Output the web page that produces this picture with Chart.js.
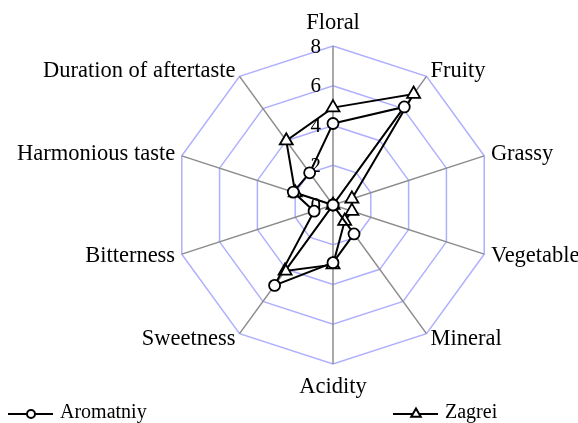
<!DOCTYPE html>
<html>
<head>
<meta charset="utf-8">
<script src="https://cdn.jsdelivr.net/npm/chart.js@4.4.1/dist/chart.umd.min.js"></script>
<style>
  html, body { margin: 0; padding: 0; background: #fff; }
  #wrap { width: 578px; height: 423px; }
</style>
</head>
<body>
<div id="wrap"><canvas id="radar" width="578" height="423"></canvas></div>
<script>
// data
var categories = ['Floral', 'Fruity', 'Grassy', 'Vegetable', 'Mineral', 'Acidity', 'Sweetness', 'Bitterness', 'Harmonious taste', 'Duration of aftertaste'];
var aromatniy = [4.1, 6.1, 0, 0, 1.8, 2.9, 5.0, 1.0, 2.1, 2.0];
var zagrei = [4.9, 6.9, 1.0, 1.0, 1.0, 3.0, 4.1, 0, 2.0, 4.0];
var tickValues = [0, 2, 4, 6, 8];
var seriesNames = ['Aromatniy', 'Zagrei'];

var serif = '"Liberation Serif", "Times New Roman", serif';

/**
 * tick numbers on the left of the vertical axis
 */
var tickText = {
	id: 'tickText',
	beforeDatasetsDraw: function(chart) {
		var s = chart.scales.r;
		var ctx = chart.ctx;
		ctx.save();
		ctx.font = '21px ' + serif;
		ctx.fillStyle = '#000';
		ctx.textAlign = 'right';
		ctx.textBaseline = 'middle';
		for (var i = 0; i < tickValues.length; i++) {
			var d = s.getDistanceFromCenterForValue(tickValues[i]);
			ctx.fillText(String(tickValues[i]), s.xCenter - 12, s.yCenter - d + 1);
		}
		ctx.restore();
	}
};

/**
 * category names, placed next to the outer ring
 */
var catText = {
	id: 'catText',
	afterDraw: function(chart) {
		var s = chart.scales.r;
		var ctx = chart.ctx;
		ctx.save();
		ctx.font = '22.5px ' + serif;
		ctx.fillStyle = '#000';
		for (var i = 0; i < categories.length; i++) {
			var deg = Math.round(s.getIndexAngle(i) * 180 / Math.PI) % 360;
			var pad = (deg === 0 || deg === 180) ? 12 : 7;
			var p = s.getPointPosition(i, s.drawingArea + pad);
			if (deg === 0) {
				ctx.textAlign = 'center'; ctx.textBaseline = 'bottom';
			} else if (deg === 180) {
				ctx.textAlign = 'center'; ctx.textBaseline = 'top';
			} else if (deg < 180) {
				ctx.textAlign = 'left'; ctx.textBaseline = 'middle';
			} else {
				ctx.textAlign = 'right'; ctx.textBaseline = 'middle';
			}
			ctx.fillText(categories[i], p.x, p.y);
		}
		ctx.restore();
	}
};

function marker(ctx, style, x, y, r) {
	ctx.beginPath();
	if (style === 'triangle') {
		ctx.moveTo(x, y - r);
		ctx.lineTo(x + r * 0.866, y + r * 0.5);
		ctx.lineTo(x - r * 0.866, y + r * 0.5);
		ctx.closePath();
	} else {
		ctx.arc(x, y, r, 0, Math.PI * 2);
	}
	ctx.fillStyle = '#fff';
	ctx.fill();
	ctx.stroke();
}

/**
 * legend: one entry bottom-left, one bottom-right
 */
var bottomLegend = {
	id: 'bottomLegend',
	afterDraw: function(chart, args, opts) {
		var ctx = chart.ctx;
		ctx.save();
		ctx.font = '20px ' + serif;
		ctx.textAlign = 'left';
		ctx.textBaseline = 'middle';
		chart.data.datasets.forEach(function(ds, i) {
			var x = opts.xs[i], y = opts.y;
			ctx.strokeStyle = ds.borderColor;
			ctx.lineWidth = 2;
			ctx.beginPath();
			ctx.moveTo(x, y);
			ctx.lineTo(x + 45, y);
			ctx.stroke();
			marker(ctx, ds.pointStyle, x + 23, y, ds.pointStyle === 'triangle' ? 5.5 : 4);
			ctx.fillStyle = '#000';
			ctx.fillText(ds.label, x + 52, y - 1);
		});
		ctx.restore();
	}
};

var ctx = document.getElementById('radar').getContext('2d');
var myChart = new Chart(ctx, {
	type: 'radar',
	data: {
		labels: categories,
		datasets: [{
			label: seriesNames[0],
			data: aromatniy,
			borderColor: '#000',
			borderWidth: 2,
			backgroundColor: 'rgba(0,0,0,0)',
			fill: false,
			pointStyle: 'circle',
			pointRadius: 5.5,
			pointBorderWidth: 1.8,
			pointBackgroundColor: '#fff',
			pointBorderColor: '#000'
		}, {
			label: seriesNames[1],
			data: zagrei,
			borderColor: '#000',
			borderWidth: 2,
			backgroundColor: 'rgba(0,0,0,0)',
			fill: false,
			pointStyle: 'triangle',
			pointRadius: 7.5,
			pointBorderWidth: 1.8,
			pointBackgroundColor: '#fff',
			pointBorderColor: '#000'
		}]
	},
	options: {
		responsive: false,
		animation: false,
		layout: { padding: { top: 46, bottom: 58, left: 174, right: 85 } },
		plugins: {
			legend: { display: false },
			tooltip: { enabled: false },
			bottomLegend: { xs: [8, 393], y: 414 }
		},
		scales: {
			r: {
				min: 0,
				max: 8,
				ticks: { display: false, stepSize: 2 },
				pointLabels: { display: false },
				grid: { circular: false, color: 'rgb(175,175,255)', lineWidth: 1.5 },
				angleLines: { color: 'rgb(140,140,140)', lineWidth: 1.5 }
			}
		}
	},
	plugins: [tickText, catText, bottomLegend]
});
</script>
</body>
</html>
